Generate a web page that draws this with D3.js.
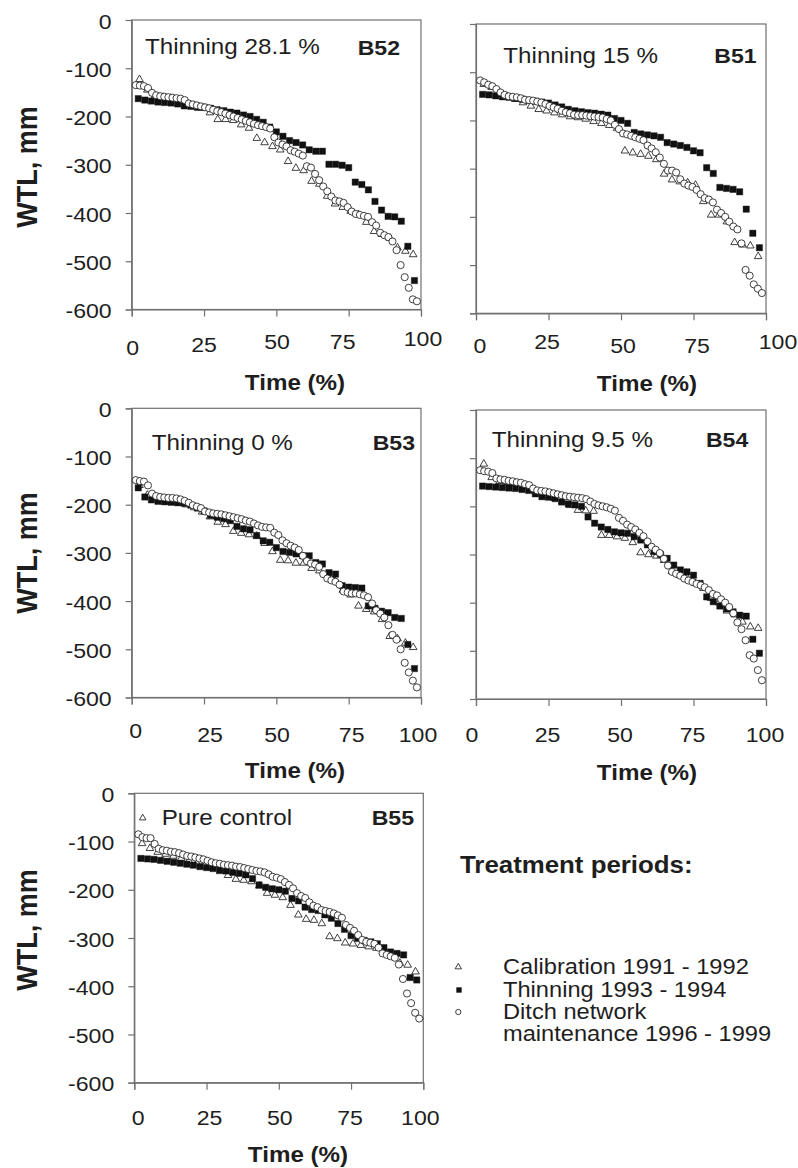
<!DOCTYPE html>
<html><head><meta charset="utf-8">
<script src="https://cdn.jsdelivr.net/npm/d3@7"></script>
<style>
body{margin:0;background:#fff}
svg{display:block}
text{font-family:"Liberation Sans",Arial,Helvetica,sans-serif;fill:#1e1e1e}
</style>
</head><body>
<svg id="chart" width="798" height="1168"></svg>
<script>
// ---------- data ----------
const xTicks = [0, 25, 50, 75, 100];
const yTicks = [0, -100, -200, -300, -400, -500, -600];
const panelIds = ["B52", "B51", "B53", "B54", "B55"];
const panelTitles = ["Thinning 28.1 %", "Thinning 15 %", "Thinning 0 %", "Thinning 9.5 %", "Pure control"];
const seriesNames = ["Calibration 1991 - 1992", "Thinning 1993 - 1994", "Ditch network", "maintenance 1996 - 1999"];
const xTitle = "Time (%)";
const yTitle = "WTL, mm";
const legendTitle = "Treatment periods:";

// B52
const calB52 = [-123,-145,-157,-160,-162,-165,-172,-177,-182,-192,-206,-206,-208,-217,-224,-245,-254,-262,-269,-293,-307,-312,-334,-340,-365,-381,-388,-396,-403,-419,-438,-444,-452,-472,-479,-486];
const thinB52 = [-163,-166,-168,-170,-171,-172,-174,-178,-179,-181,-181,-183,-186,-188,-191,-193,-197,-200,-206,-212,-222,-232,-241,-250,-254,-259,-269,-272,-272,-299,-299,-301,-306,-336,-341,-352,-376,-394,-407,-408,-417,-469,-540];
const ditchB52 = [-135,-136,-137,-141,-151,-156,-158,-159,-160,-161,-162,-163,-166,-173,-175,-177,-179,-181,-183,-186,-189,-191,-194,-197,-200,-203,-206,-209,-212,-215,-218,-220,-222,-225,-243,-254,-258,-262,-270,-273,-277,-281,-303,-306,-319,-332,-345,-355,-366,-374,-376,-379,-388,-397,-402,-404,-406,-408,-419,-426,-441,-446,-450,-459,-477,-508,-533,-555,-579,-583];
// B51
const calB51 = [-125,-131,-142,-150,-156,-163,-170,-177,-180,-184,-188,-192,-194,-197,-202,-206,-210,-216,-263,-267,-270,-274,-281,-311,-323,-327,-329,-334,-368,-396,-396,-410,-453,-458,-460,-482];
const thinB51 = [-146,-147,-149,-151,-152,-154,-156,-158,-160,-162,-164,-168,-172,-177,-180,-182,-184,-185,-187,-189,-196,-200,-206,-225,-228,-230,-232,-235,-246,-249,-252,-256,-263,-267,-298,-310,-339,-341,-343,-348,-384,-434,-464];
const ditchB51 = [-117,-121,-126,-129,-135,-142,-147,-150,-151,-152,-154,-157,-158,-159,-161,-163,-166,-170,-173,-176,-180,-183,-185,-188,-189,-189,-190,-191,-192,-193,-194,-197,-200,-209,-218,-227,-229,-232,-235,-238,-241,-252,-258,-266,-277,-290,-304,-304,-308,-322,-331,-335,-338,-344,-353,-361,-364,-370,-385,-392,-400,-410,-420,-426,-455,-510,-522,-540,-549,-558];
// B53
const calB53 = [-160,-180,-186,-190,-193,-196,-200,-206,-215,-225,-236,-241,-255,-259,-262,-265,-280,-297,-315,-316,-321,-321,-332,-337,-345,-358,-377,-387,-410,-417,-422,-438,-473,-478,-487,-496];
const thinB53 = [-165,-184,-190,-193,-194,-195,-196,-197,-201,-207,-213,-222,-226,-229,-233,-245,-250,-252,-264,-275,-278,-289,-297,-299,-302,-306,-306,-320,-323,-341,-344,-368,-371,-372,-373,-410,-415,-421,-424,-434,-436,-490,-540];
const ditchB53 = [-149,-151,-152,-160,-177,-182,-184,-185,-186,-186,-187,-189,-192,-196,-201,-204,-207,-214,-216,-218,-219,-220,-222,-224,-226,-228,-230,-233,-235,-239,-243,-246,-247,-248,-258,-263,-274,-280,-285,-289,-294,-306,-317,-322,-324,-329,-344,-353,-357,-360,-366,-380,-382,-384,-384,-386,-388,-392,-405,-419,-426,-434,-450,-470,-480,-500,-528,-548,-565,-579];
// B54
const calB54 = [-112,-140,-148,-150,-152,-158,-165,-172,-178,-183,-190,-198,-208,-209,-210,-260,-260,-263,-266,-275,-296,-300,-303,-312,-335,-343,-350,-360,-370,-391,-400,-417,-425,-440,-450,-453];
const thinB54 = [-158,-159,-160,-161,-162,-163,-165,-167,-174,-180,-181,-184,-191,-195,-197,-200,-222,-235,-243,-248,-253,-255,-256,-263,-270,-280,-294,-300,-308,-322,-332,-336,-343,-360,-388,-398,-407,-413,-419,-426,-428,-476,-505];
const ditchB54 = [-125,-127,-128,-131,-142,-144,-145,-147,-148,-150,-151,-154,-156,-163,-167,-168,-169,-171,-173,-175,-177,-179,-180,-181,-182,-183,-185,-190,-195,-198,-200,-202,-205,-209,-224,-230,-238,-243,-248,-255,-262,-273,-284,-290,-297,-309,-323,-336,-340,-344,-350,-354,-357,-361,-364,-368,-374,-382,-385,-393,-400,-409,-422,-441,-455,-478,-509,-516,-540,-561];
// B55
const calB55 = [-104,-114,-122,-126,-130,-135,-140,-145,-150,-155,-162,-170,-178,-180,-183,-192,-207,-211,-216,-232,-252,-261,-263,-270,-297,-301,-310,-312,-315,-318,-321,-330,-338,-352,-356,-370];
const thinB55 = [-135,-136,-137,-139,-141,-143,-145,-147,-149,-152,-154,-156,-159,-161,-164,-166,-169,-177,-190,-195,-198,-200,-203,-218,-223,-236,-241,-243,-252,-259,-270,-282,-295,-301,-305,-308,-312,-320,-329,-332,-335,-382,-387];
const ditchB55 = [-85,-91,-93,-93,-105,-115,-118,-119,-121,-122,-124,-127,-130,-131,-133,-135,-137,-140,-143,-145,-146,-148,-149,-150,-152,-153,-155,-157,-159,-161,-162,-164,-168,-173,-175,-178,-184,-190,-197,-207,-213,-217,-226,-233,-236,-242,-244,-246,-249,-253,-258,-273,-279,-285,-294,-304,-308,-310,-312,-320,-332,-335,-338,-341,-355,-385,-415,-435,-455,-467];

const panelSeries = [
  [calB52, thinB52, ditchB52],
  [calB51, thinB51, ditchB51],
  [calB53, thinB53, ditchB53],
  [calB54, thinB54, ditchB54],
  [calB55, thinB55, ditchB55]
];

// ---------- layout (positions / styles) ----------
const layout = [
  {l:131.7, r:421, t:20, b:309.5, yLab:true, tx:145, ty:54, ix:400, iy:55, hx:295, hy:390, wy:167,
   xl:[[1,45.5],[0,42.5],[0.7,39.5],[-6,39.5],[2,36.5]]},
  {l:476, r:766, t:24, b:313.3, yLab:false, tx:503.3, ty:63, ix:756.7, iy:63, hx:647, hy:391,
   xl:[[4,39.7],[-1.5,35.7],[2,39.7],[3.5,39.7],[12,35.7]]},
  {l:131.7, r:421, t:408.3, b:697.5, yLab:true, tx:151.7, ty:450, ix:415, iy:450, hx:295, hy:778, wy:553,
   xl:[[4,40.3],[6,44.3],[0.7,44.3],[3,44.3],[-3,44.3]]},
  {l:476, r:766, t:410, b:699, yLab:false, tx:491.7, ty:446.7, ix:748.3, iy:446.7, hx:647, hy:780,
   xl:[[-4,43],[-1,43],[-1,43],[-1,43],[-1,43]]},
  {l:134.3, r:423.3, t:793.3, b:1082.7, yLab:true, tx:161.7, ty:825, ix:414, iy:825, hx:298, hy:1162, wy:930,
   mark:[142.7,818], xl:[[4,42],[3,42],[1,42],[-1,42],[-3,42]]}
];

const SX = 1.1;               // horizontal text stretch of the original
const lineCol = "#707070";
const svg = d3.select("#chart");

function T(g, x, y, s, o) {
  o = o || {};
  return g.append("text")
    .attr("transform", `translate(${x},${y}) scale(${o.sx || SX},1)` + (o.rot ? ` rotate(${o.rot})` : ""))
    .attr("text-anchor", o.anchor || "start")
    .style("font-size", (o.size || 21) + "px")
    .style("font-weight", o.bold ? "bold" : "normal")
    .text(s);
}

const symTypes = [d3.symbolTriangle, d3.symbolSquare, d3.symbolCircle];
const symSizes = [25, 40, 40];
function sym(g, k, x, y, scale) {
  g.append("path")
    .attr("transform", `translate(${x},${y})`)
    .attr("d", d3.symbol().type(symTypes[k]).size(symSizes[k] * (scale || 1))())
    .attr("fill", k === 1 ? "#111" : "#fff")
    .attr("stroke", "#111")
    .attr("stroke-width", k === 1 ? 0.4 : 0.8);
}

layout.forEach((L, p) => {
  const x = d3.scaleLinear().domain([0, 100]).range([L.l, L.r]);
  const y = d3.scaleLinear().domain([-600, 0]).range([L.b, L.t]);
  const g = svg.append("g");

  // frame
  g.append("rect").attr("x", L.l).attr("y", L.t).attr("width", L.r - L.l).attr("height", L.b - L.t)
    .attr("fill", "none").attr("stroke", lineCol).attr("stroke-width", 1.2);

  // axes with outward ticks
  const ax = g.append("g").attr("transform", `translate(0,${L.b})`)
    .call(d3.axisBottom(x).tickValues(xTicks).tickSize(7).tickFormat(""));
  const ay = g.append("g").attr("transform", `translate(${L.l},0)`)
    .call(d3.axisLeft(y).tickValues(yTicks).tickSize(6).tickFormat(""));
  [ax, ay].forEach(a => { a.selectAll("path,line").attr("stroke", lineCol).attr("stroke-width", 1.2); });

  // x tick labels
  xTicks.forEach((v, i) => T(g, x(v) + L.xl[i][0], L.b + L.xl[i][1], String(v), {anchor: "middle", size: 21}));
  // y tick labels
  if (L.yLab) {
    yTicks.forEach(v => T(g, L.l - 20, y(v) + 8.5, String(v), {anchor: "end", size: 21}));
    T(g, 37, L.wy, yTitle, {anchor: "middle", size: 27, bold: true, rot: -90});
  }
  // axis title
  T(g, L.hx, L.hy, xTitle, {anchor: "middle", size: 22, bold: true});
  // panel texts
  T(g, L.tx, L.ty, panelTitles[p], {size: 22});
  T(g, L.ix, L.iy, panelIds[p], {anchor: "end", size: 21, bold: true});
  if (L.mark) sym(g, 0, L.mark[0], L.mark[1], 0.75);

  // data: exceedance plotting positions (rank / (n+1))
  panelSeries[p].forEach((vals, k) => {
    const n = vals.length;
    vals.forEach((v, i) => sym(g, k, x((i + 1) / (n + 1) * 100), y(v)));
  });
});

// legend
const lg = svg.append("g");
T(lg, 460, 873, legendTitle, {size: 23.5, bold: true});
const legRows = [967, 990, 1012];
sym(lg, 0, 458.3, legRows[0], 0.7);
sym(lg, 1, 459, legRows[1], 0.6);
sym(lg, 2, 458.3, legRows[2], 0.55);
T(lg, 503, 973.5, seriesNames[0], {size: 21.5});
T(lg, 503, 996.5, seriesNames[1], {size: 21.5});
T(lg, 503, 1018.5, seriesNames[2], {size: 21.5});
T(lg, 503, 1040.5, seriesNames[3], {size: 21.5});
</script>
</body></html>
